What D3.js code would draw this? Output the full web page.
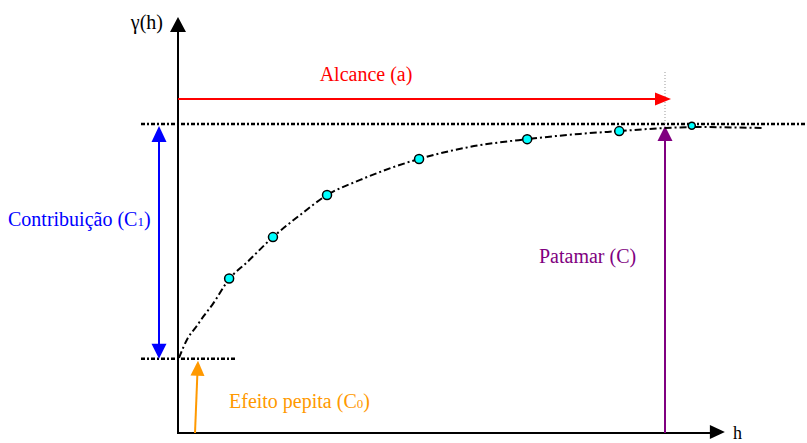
<!DOCTYPE html>
<html>
<head>
<meta charset="utf-8">
<script src="https://cdn.jsdelivr.net/npm/d3@7"></script>
<style>
  body { margin: 0; background: #fff; }
</style>
</head>
<body>
<svg class="variogram" width="807" height="443"></svg>
<script>
'use strict';

// experimental semivariogram (h, gamma)
var sampleH = [10.5, 19.5, 30.6, 49.5, 71.7, 90.6, 105.5];
var sampleGamma = [0.50, 0.634, 0.77, 0.887, 0.951, 0.977, 0.994];

// model curve
var modelH = [0.2, 2.0, 3.7, 5.3, 7.0, 10.5, 14.2, 19.5, 25.1, 30.6, 37.4, 49.5, 60.0, 71.7, 82.5, 90.6, 100, 107.2, 119.9];
var modelGamma = [0.243, 0.307, 0.343, 0.379, 0.414, 0.498, 0.553, 0.634, 0.706, 0.77, 0.819, 0.887, 0.926, 0.951, 0.968, 0.977, 0.987, 0.99, 0.987];

// model parameters
var NUGGET = 0.24;   // C0
var SILL = 1.0;      // C
var RANGE = 100;     // a

var LABELS = {
    yAxis: 'γ(h)',
    xAxis: 'h',
    range: 'Alcance (a)',
    sill: 'Patamar (C)',
    contrib: ['Contribuição (C', '1', ')'],
    nugget: ['Efeito pepita (C', '0', ')']
};

(function () {

var ORIGIN = { X: 178, Y: 433 };
var H_MAX = 112.3;
var G_MAX = 1.346;

var x = d3.scaleLinear().domain([0, RANGE]).range([ORIGIN.X, 665]);
var y = d3.scaleLinear().domain([0, SILL]).range([ORIGIN.Y, 124]);

var svg = d3.select('svg.variogram');

// arrow head: tip at (tx, ty), pointing in direction angle (deg, 0 = right)
function arrowHead(g, tx, ty, angle, len, half, color) {
    g.append('path')
        .attr('d', 'M0,0L' + (-len) + ',' + (-half) + 'L' + (-len) + ',' + half + 'Z')
        .attr('transform', 'translate(' + tx + ',' + ty + ') rotate(' + angle + ')')
        .attr('fill', color);
}

function line(g, x1, y1, x2, y2, color, width, dash) {
    var l = g.append('line')
        .attr('x1', x1).attr('y1', y1)
        .attr('x2', x2).attr('y2', y2)
        .attr('stroke', color)
        .attr('stroke-width', width);
    if (dash) l.attr('stroke-dasharray', dash);
    return l;
}

function label(g, tx, ty, str, color, size, anchor) {
    return g.append('text')
        .attr('x', tx).attr('y', ty)
        .attr('fill', color)
        .style('font-family', 'Liberation Serif')
        .style('font-size', size + 'px')
        .attr('text-anchor', anchor || 'start')
        .text(str);
}

var g = svg.append('g');

// sill & nugget reference lines
line(g, 141, y(SILL), 807, y(SILL), '#000', 2.5, '4,2,2,2');
line(g, 141, y(NUGGET), 235, y(NUGGET), '#000', 2.5, '4,2,2,2');

// gray marker at the range
line(g, x(RANGE), 72, x(RANGE), y(SILL), '#999', 1, '1,2');

// axes
line(g, ORIGIN.X, ORIGIN.Y, ORIGIN.X, y(G_MAX) + 12, '#000', 2);
arrowHead(g, ORIGIN.X, y(G_MAX), -90, 15, 8, '#000');
line(g, ORIGIN.X - 1, ORIGIN.Y, x(H_MAX) - 12, ORIGIN.Y, '#000', 2);
arrowHead(g, x(H_MAX), ORIGIN.Y - 1, 0, 15, 7, '#000');

label(g, 163, 29, LABELS.yAxis, '#000', 20, 'end');
label(g, 733, 439, LABELS.xAxis, '#000', 18);

// range arrow (red)
var rangeY = 99;
line(g, ORIGIN.X, rangeY, x(RANGE) - 8, rangeY, '#ff0000', 2);
arrowHead(g, x(RANGE) + 6, rangeY, 0, 16, 6.5, '#ff0000');
label(g, 366, 81, LABELS.range, '#ff0000', 20, 'middle');

// contribution arrow (blue, double headed)
var contribX = 159;
line(g, contribX, y(SILL) + 12, contribX, y(NUGGET) - 12, '#0000ff', 2);
arrowHead(g, contribX, y(SILL) + 2, -90, 16, 7.5, '#0000ff');
arrowHead(g, contribX, y(NUGGET), 90, 15, 7.5, '#0000ff');

function subText(tx, ty, parts, color) {
    var t = label(g, tx, ty, null, color, 20);
    t.append('tspan').text(parts[0]);
    t.append('tspan').style('font-size', '13px').text(parts[1]);
    t.append('tspan').text(parts[2]);
    return t;
}

subText(8, 226, LABELS.contrib, '#0000ff');

// sill arrow (purple)
line(g, x(RANGE), ORIGIN.Y, x(RANGE), y(SILL) + 12, '#800080', 2);
arrowHead(g, x(RANGE), y(SILL) + 2, -90, 15, 7.5, '#800080');
label(g, 539, 263, LABELS.sill, '#800080', 20);

// nugget arrow (orange)
line(g, 195, ORIGIN.Y, 197.5, y(NUGGET) + 12, '#ff9900', 2);
arrowHead(g, 198, y(NUGGET) + 2, -88, 15, 7, '#ff9900');
subText(229, 408, LABELS.nugget, '#ff9900');

// model curve
var model = modelH.map(function (h, i) { return [h, modelGamma[i]]; });
var curve = d3.line()
    .x(function (d) { return x(d[0]); })
    .y(function (d) { return y(d[1]); })
    .curve(d3.curveMonotoneX);

g.append('path')
    .datum(model)
    .attr('d', curve)
    .attr('fill', 'none')
    .attr('stroke', '#000')
    .attr('stroke-width', 2)
    .attr('stroke-dasharray', '7,3,2,3');

// experimental points
g.selectAll('circle.pt')
    .data(sampleH)
    .enter()
    .append('circle')
    .attr('class', 'pt')
    .attr('cx', function (d) { return x(d); })
    .attr('cy', function (d, i) { return y(sampleGamma[i]); })
    .attr('r', function (d, i) { return i === sampleH.length - 1 ? 3.5 : 4.5; })
    .attr('fill', '#00ffff')
    .attr('stroke', '#000')
    .attr('stroke-width', 1.5);

})();
</script>
</body>
</html>
